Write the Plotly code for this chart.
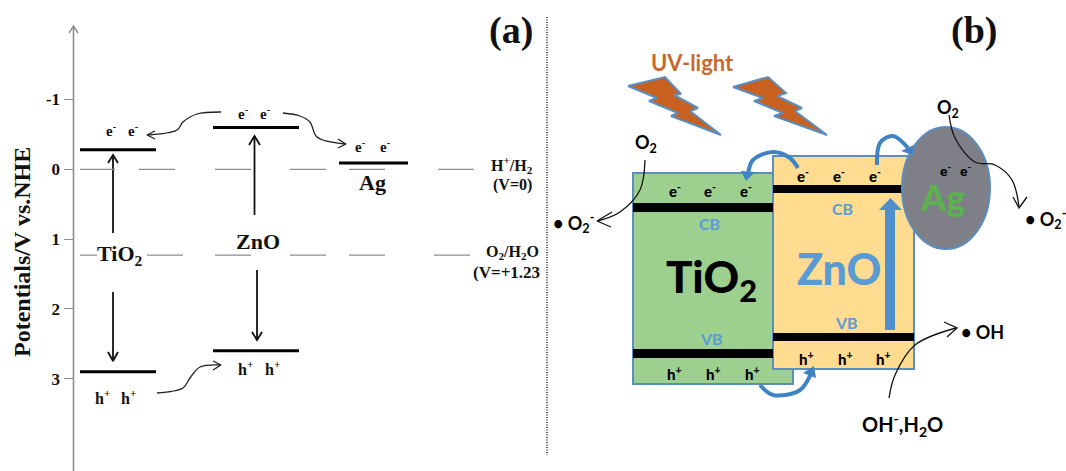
import plotly.graph_objects as go

SERIF = "Liberation Serif"
SANS = "Lato"

# ---------- panel (a): energy levels, volts vs. NHE ----------
tick_values = [-1, 0, 1, 2, 3]
tick_labels = ["-1", "0", "1", "2", "3"]
level_names = ["TiO2 CB", "ZnO CB", "Ag", "TiO2 VB", "ZnO VB"]
level_volts = [-0.28, -0.60, -0.09, 2.90, 2.60]
level_x_from = [80, 213, 339, 80, 213]
level_x_to = [156, 299, 408, 156, 299]
ref_volts = [0, 1.23]
ref_seg_h = [(80, 115), (139, 175), (215, 251), (290, 326), (349, 385), (438, 474)]
ref_seg_o = [(80, 97), (147, 183), (215, 251), (290, 326), (349, 385), (434, 470)]

# vertical excitation arrows, positions in page units
v_arrows = [(113, 233, 155), (113, 292, 361), (254.5, 215, 136), (257, 270, 340)]
v_arrow_heads = [
    ([108, 113, 118], [163, 155, 163]),
    ([108, 113, 118], [352, 361, 352]),
    ([249, 254.5, 260], [145, 136, 145]),
    ([252, 257, 262], [332, 340, 332]),
]
# curved transfer arrows
curves_a = [
    ([221, 197, 183, 177, 147], [112, 114, 122, 130, 135]),
    ([283, 300, 310, 317, 345], [113, 116, 122, 137, 144]),
    ([157, 183, 190, 200, 221], [393, 388, 378, 367, 365]),
]
curve_heads_a = [
    ([155, 147, 155], [131, 135, 139]),
    ([338, 346, 338], [139, 144, 148]),
    ([213, 221, 213], [361, 365, 370]),
]
axis_x = [73.5, 73.5]
axis_y = [27, 471]
axis_head_x = [69, 73.5, 78]
axis_head_y = [33, 26, 33]
divider_x = [547, 547]
divider_y = [17, 455]

# ---------- panel (b): band scheme, page units ----------
green_box = (633, 173, 793, 384)
yellow_box = (773, 156, 914, 369)
black_bars = [(633, 203, 773, 212), (633, 349, 773, 358), (773, 185, 905, 193), (773, 333, 914, 341)]
ag_ellipse = (902, 127, 990, 249)
bolt1_x = [628, 665, 681, 674, 698, 690, 721, 671, 678, 649, 657, 628]
bolt1_y = [86, 77, 94, 95, 108, 111, 135, 116, 113, 101, 98, 86]
bolt2_x = [733, 768, 786, 777, 802, 795, 827, 774, 783, 754, 763, 733]
bolt2_y = [87, 77, 93, 96, 108, 111, 135, 116, 113, 101, 98, 87]
blue_curves = [
    ([798, 790, 773, 753, 748], [168, 158, 152, 160, 174]),
    ([877, 880, 893, 908], [165, 143, 136, 148]),
    ([760, 773, 800, 812], [385, 395, 390, 371]),
]
blue_heads = [
    ([741, 755, 746, 741], [171, 172, 181, 171]),
    ([901, 914, 913, 901], [151, 145, 155, 151]),
    ([803, 814, 816, 803], [373, 366, 378, 373]),
]
up_arrow_x = [885, 885, 879, 890.5, 902, 895, 895, 885]
up_arrow_y = [330, 210, 210, 198, 210, 210, 330, 330]
thin_curves = [
    ([645, 640, 620, 598], [160, 190, 212, 221]),
    ([949, 955, 975, 995, 1012, 1019], [115, 138, 162, 165, 180, 207]),
    ([889, 895, 915, 956], [398, 375, 345, 328]),
]
thin_heads = [
    ([612, 597, 611], [212, 221, 227]),
    ([1013, 1019, 1027], [197, 208, 197]),
    ([944, 957, 947], [322, 328, 337]),
]

# text: (x, y, text, size, colour)
labels_a = [
    (111, 130, "e<sup>-</sup>", 15), (133, 130, "e<sup>-</sup>", 15),
    (243, 113, "e<sup>-</sup>", 15), (265, 113, "e<sup>-</sup>", 15),
    (360, 146, "e<sup>-</sup>", 15), (385, 146, "e<sup>-</sup>", 15),
    (102, 397, "h<sup>+</sup>", 16), (128, 397, "h<sup>+</sup>", 16),
    (245, 368, "h<sup>+</sup>", 16), (272, 368, "h<sup>+</sup>", 16),
    (372, 182, "Ag", 22), (120, 255, "TiO<sub>2</sub>", 22), (258, 241, "ZnO", 22),
    (512, 165, "H<sup>+</sup>/H<sub>2</sub>", 16), (512, 185, "(V=0)", 16),
    (512, 252, "O<sub>2</sub>/H<sub>2</sub>O", 16), (506, 272, "(V=+1.23", 17),
    (511, 30, "(a)", 38), (974, 30, "(b)", 38),
]
labels_b = [
    (692, 62, "UV-light", 22, "#C8692B", 700),
    (711, 279, "TiO<sub>2</sub>", 44, "#000000", 900),
    (839, 268, "ZnO", 43, "#5B9BD5", 900),
    (709, 223, "CB", 16, "#5B9BD5", 700), (842, 208, "CB", 16, "#5B9BD5", 700),
    (711, 338, "VB", 16, "#5B9BD5", 700), (846, 322, "VB", 16, "#5B9BD5", 700),
    (675, 190, "e<sup>-</sup>", 15, "#000000", 900), (710, 190, "e<sup>-</sup>", 15, "#000000", 900),
    (746, 190, "e<sup>-</sup>", 15, "#000000", 900), (803, 175, "e<sup>-</sup>", 15, "#000000", 900),
    (839, 175, "e<sup>-</sup>", 15, "#000000", 900), (875, 175, "e<sup>-</sup>", 15, "#000000", 900),
    (946, 169, "e<sup>-</sup>", 14, "#000000", 900), (966, 169, "e<sup>-</sup>", 14, "#000000", 900),
    (674, 373, "h<sup>+</sup>", 15, "#000000", 900), (713, 373, "h<sup>+</sup>", 15, "#000000", 900),
    (752, 373, "h<sup>+</sup>", 15, "#000000", 900), (806, 358, "h<sup>+</sup>", 15, "#000000", 900),
    (845, 358, "h<sup>+</sup>", 15, "#000000", 900), (883, 358, "h<sup>+</sup>", 15, "#000000", 900),
    (942, 197, "Ag", 36, "#5DB14E", 900),
    (646, 143, "O<sub>2</sub>", 18, "#000000", 700), (948, 108, "O<sub>2</sub>", 18, "#000000", 700),
    (573, 223, "• O<sub>2</sub><sup>-</sup>", 18, "#000000", 700),
    (1045, 219, "• O<sub>2</sub><sup>-</sup>", 18, "#000000", 700),
    (982, 332, "• OH", 18, "#000000", 700),
    (902, 425, "OH<sup>-</sup>,H<sub>2</sub>O", 20, "#000000", 700),
]
axis_title = "Potentials/V vs.NHE"

# ---------- scale of the potential axis ----------
ZERO_PX, PX_PER_V = 169.3, 69.8
V_RANGE = [(471 - ZERO_PX) / PX_PER_V, (0 - ZERO_PX) / PX_PER_V]

fig = go.Figure()


def line(x, y, color, width, shape="linear", yaxis="y2", dash=None):
    fig.add_trace(go.Scatter(x=x, y=y, mode="lines", yaxis=yaxis, hoverinfo="skip",
                             line=dict(color=color, width=width, shape=shape, dash=dash)))


def poly(x, y, fill, edge=None, width=0):
    fig.add_trace(go.Scatter(x=x, y=y, mode="lines", yaxis="y2", fill="toself", fillcolor=fill,
                             hoverinfo="skip", line=dict(color=edge or fill, width=width)))


BORDER = "#5B8DBF"
shapes = [
    dict(type="rect", x0=green_box[0], y0=green_box[1], x1=green_box[2], y1=green_box[3],
         fillcolor="#9DD08E", line=dict(color=BORDER, width=2)),
    dict(type="rect", x0=yellow_box[0], y0=yellow_box[1], x1=yellow_box[2], y1=yellow_box[3],
         fillcolor="#FFDC8F", line=dict(color=BORDER, width=2)),
]
for b in black_bars:
    shapes.append(dict(type="rect", x0=b[0], y0=b[1], x1=b[2], y1=b[3], fillcolor="#000000", line=dict(width=0)))
shapes.append(dict(type="circle", x0=ag_ellipse[0], y0=ag_ellipse[1], x1=ag_ellipse[2], y1=ag_ellipse[3],
                   fillcolor="#7F7F87", line=dict(color=BORDER, width=2)))
for s in shapes:
    s.update(xref="x", yref="y2", layer="below")

# potential axis line, divider
line(axis_x, axis_y, "#8C8C8C", 1.6)
line(axis_head_x, axis_head_y, "#8C8C8C", 1.4)
line(divider_x, divider_y, "#222222", 1.5, dash="1px,1.5px")

# reference potentials
for volt, segs in zip(ref_volts, [ref_seg_h, ref_seg_o]):
    xs, ys = [], []
    for a, b in segs:
        xs += [a, b, None]
        ys += [volt, volt, None]
    line(xs, ys, "#8E8E8E", 1.2, yaxis="y")

# band levels
for v, a, b in zip(level_volts, level_x_from, level_x_to):
    line([a, b], [v, v], "#000000", 3, yaxis="y")

# arrows of panel (a)
for (x, y0, y1), (hx, hy) in zip(v_arrows, v_arrow_heads):
    line([x, x], [y0, y1], "#111111", 1.8)
    line(hx, hy, "#111111", 1.8)
for (cx, cy), (hx, hy) in zip(curves_a, curve_heads_a):
    line(cx, cy, "#222222", 1.3, shape="spline")
    line(hx, hy, "#222222", 1.3)

# panel (b) marks
poly(bolt1_x, bolt1_y, "#C8601F", "#5B8DBF", 2)
poly(bolt2_x, bolt2_y, "#C8601F", "#5B8DBF", 2)
poly(up_arrow_x, up_arrow_y, "#4F90CC")
for (cx, cy), (hx, hy) in zip(blue_curves, blue_heads):
    line(cx, cy, "#3F83C4", 4, shape="spline")
    poly(hx, hy, "#3F83C4")
for (cx, cy), (hx, hy) in zip(thin_curves, thin_heads):
    line(cx, cy, "#111111", 1.3, shape="spline")
    line(hx, hy, "#111111", 1.3)

annotations = []
for x, y, t, size in labels_a:
    annotations.append(dict(x=x, y=y, text=t,
                            font=dict(family=SERIF, size=size, color="#111111", weight=700)))
for x, y, t, size, col, wt in labels_b:
    annotations.append(dict(x=x, y=y, text=t,
                            font=dict(family=SANS, size=size, color=col, weight=wt)))
annotations.append(dict(x=22, y=252, text=axis_title, textangle=-90,
                        font=dict(family=SERIF, size=24, color="#111111", weight=700)))
for a in annotations:
    a.update(xref="x", yref="y2", showarrow=False, xanchor="center", yanchor="middle")

fig.update_layout(
    width=1066, height=471, autosize=False,
    margin=dict(l=0, r=0, t=0, b=0),
    paper_bgcolor="white", plot_bgcolor="white",
    showlegend=False, shapes=shapes, annotations=annotations,
    xaxis=dict(range=[0, 1066], visible=False, fixedrange=True),
    yaxis=dict(range=V_RANGE, anchor="free", position=73.5 / 1066, side="left", overlaying="y2",
               tickmode="array", tickvals=tick_values, ticktext=tick_labels,
               ticks="outside", ticklen=10, tickwidth=1.2, tickcolor="#8C8C8C",
               showgrid=False, zeroline=False, showline=False, fixedrange=True,
               tickfont=dict(family=SERIF, size=17, color="#111111", weight=700)),
    yaxis2=dict(range=[471, 0], visible=False, fixedrange=True),
)
fig.write_html("out.html", config={"displayModeBar": False},
               post_script="document.body.style.margin='0';document.documentElement.style.overflow='hidden';")
